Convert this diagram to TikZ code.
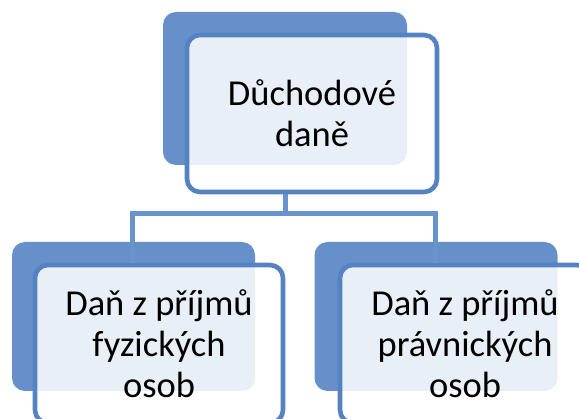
\documentclass[tikz,border=0pt]{standalone}
\usepackage{fontspec}
\setmainfont{Carlito}
\definecolor{backblue}{HTML}{6790CA}
\definecolor{edgeblue}{HTML}{5583C1}
\definecolor{lineblue}{HTML}{6A93CB}
\begin{document}
\begin{tikzpicture}[x=1pt,y=-1pt,
  backbox/.style={draw=none,fill=backblue,rounded corners=13pt,inner sep=0pt},
  frontbox/.style={draw=edgeblue,line width=4.6pt,fill=white,fill opacity=0.86,text opacity=1,
    rounded corners=13pt,inner sep=0pt,align=center,font=\fontsize{36.5}{41}\selectfont,text=black},
  conn/.style={draw=lineblue,line width=5pt}]
\useasboundingbox (0,0) rectangle (579,419);
\clip (0,0) rectangle (579,419);
\coordinate (hl) at (132,214);
\coordinate (hr) at (435,214);
% back boxes
\node[backbox,minimum width=244pt,minimum height=153pt] (tb) at (285,88.5) {};
\node[backbox,minimum width=243pt,minimum height=149pt] (lb) at (133.5,316.5) {};
\node[backbox,minimum width=243pt,minimum height=149pt] (rb) at (436,316.5) {};
% front boxes
\node[frontbox,minimum width=250pt,minimum height=157pt] (top) at (312,113.5) {Důchodové\\daně};
\node[frontbox,minimum width=248pt,minimum height=158pt] (left) at (159,344) {Daň z příjmů\\fyzických\\osob};
\node[frontbox,minimum width=250pt,minimum height=158pt] (right) at (465,344) {Daň z příjmů\\právnických\\osob};
% connectors
\coordinate (tsouth) at (tb |- top.south);
\draw[conn] (tsouth) |- (hl) -- (left.north -| hl);
\draw[conn] (tsouth) |- (hr) -- (right.north -| hr);
\end{tikzpicture}
\end{document}
